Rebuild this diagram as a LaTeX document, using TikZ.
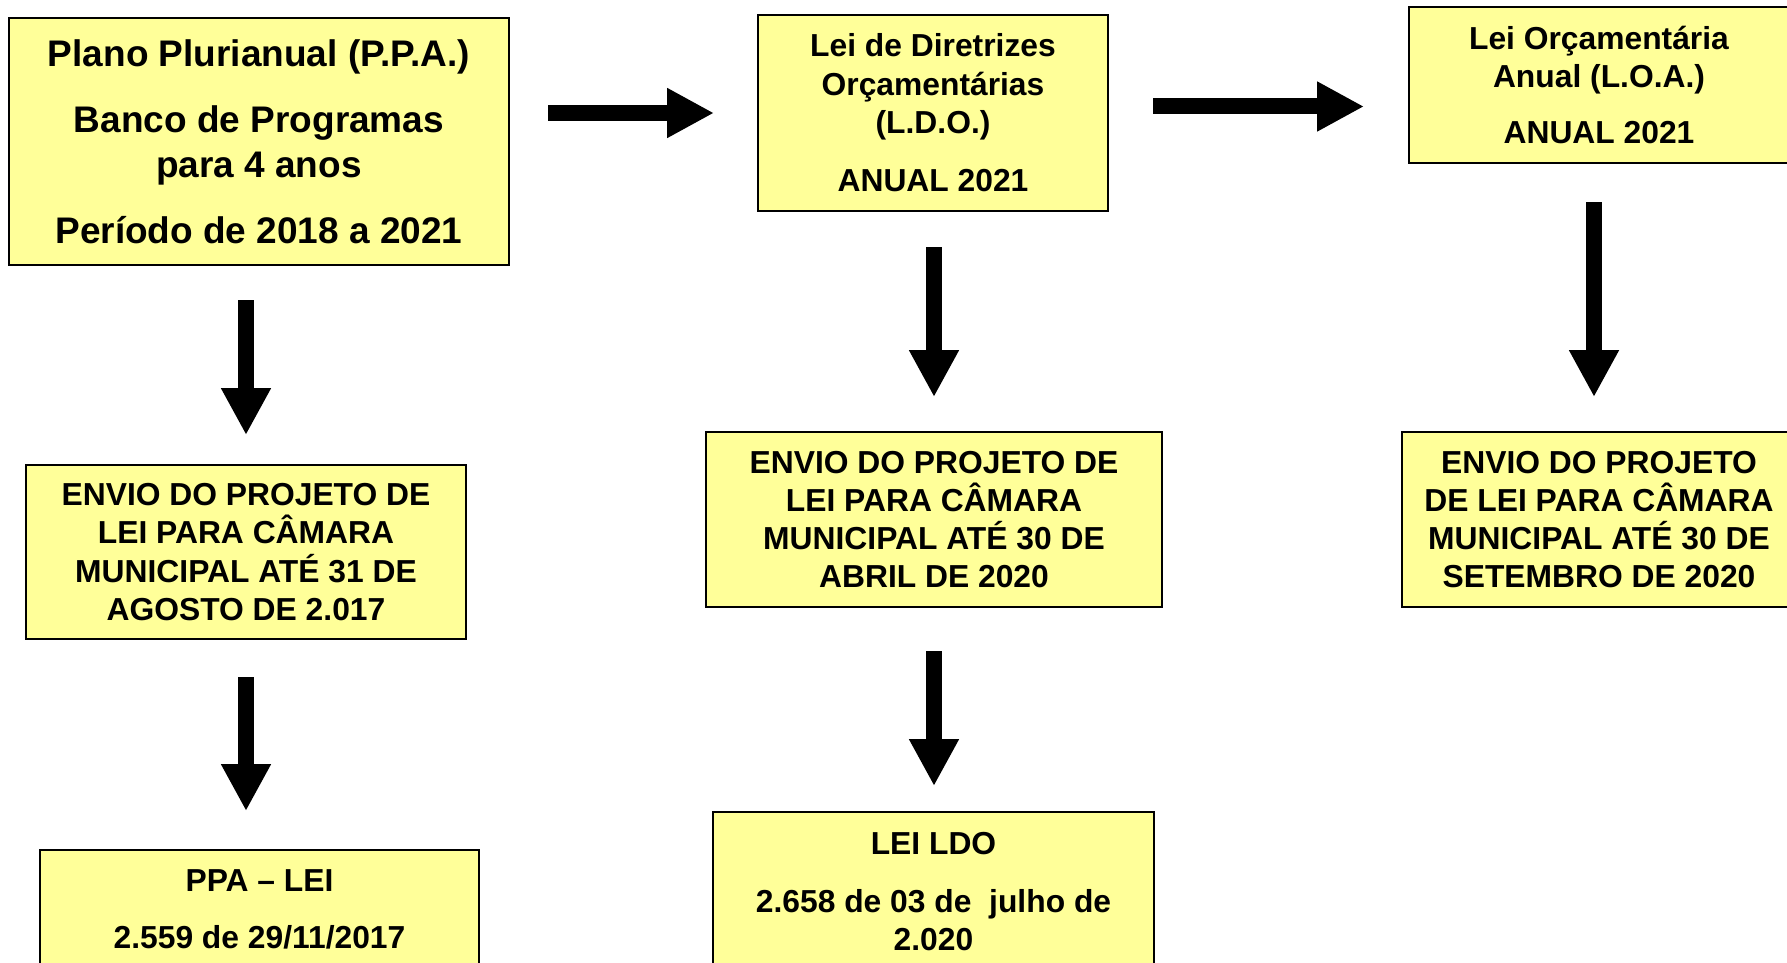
\documentclass[tikz,border=0pt]{standalone}
\usepackage{fontspec}
\setmainfont{Liberation Sans}
\usetikzlibrary{arrows.meta}
\definecolor{boxyellow}{RGB}{255,255,153}
\tikzset{
  box/.style={draw=black, line width=1.1pt, fill=boxyellow, inner sep=0pt, align=center,
    font=\fontsize{15.9pt}{19.15pt}\selectfont\bfseries},
  bigarrow/.style={line width=8pt, -{Triangle[length=23.5pt,width=23.5pt]}}
}
\begin{document}
\begin{tikzpicture}[x=0.5pt,y=-0.5pt]
\useasboundingbox (0,0) rectangle (1787,963);
% boxes
\node[box, minimum width=250pt, minimum height=123.5pt,
  font=\fontsize{18.5pt}{22.5pt}\selectfont\bfseries] (ppa) at (259,141.5)
  {Plano Plurianual (P.P.A.)\\[10.5pt]Banco de Programas\\para 4 anos\\[10.5pt]Período de 2018 a 2021};
\node[box, minimum width=175pt, minimum height=98pt] (ldo) at (933,113)
  {Lei de Diretrizes\\Orçamentárias\\(L.D.O.)\\[10pt]ANUAL 2021};
\node[box, minimum width=190pt, minimum height=78pt] (loa) at (1599,85)
  {Lei Orçamentária\\Anual (L.O.A.)\\[9pt]ANUAL 2021};
\node[box, minimum width=220pt, minimum height=87pt] (ppaenv) at (246,552)
  {ENVIO DO PROJETO DE\\LEI PARA CÂMARA\\MUNICIPAL ATÉ 31 DE\\AGOSTO DE 2.017};
\node[box, minimum width=228pt, minimum height=87.5pt] (ldoenv) at (934,519.5)
  {ENVIO DO PROJETO DE\\LEI PARA CÂMARA\\MUNICIPAL ATÉ 30 DE\\ABRIL DE 2020};
\node[box, minimum width=197pt, minimum height=87.5pt] (loaenv) at (1599,519.5)
  {ENVIO DO PROJETO\\DE LEI PARA CÂMARA\\MUNICIPAL ATÉ 30 DE\\SETEMBRO DE 2020};
\node[box, minimum width=219.5pt, minimum height=59.5pt] (ppalei) at (259.5,909.5)
  {PPA – LEI\\[9.5pt]2.559 de 29/11/2017};
\node[box, minimum width=220.5pt, minimum height=79.5pt] (ldolei) at (933.5,891.5)
  {LEI LDO\\[10pt]2.658 de 03 de \ julho de\\2.020};
% arrow end points
\coordinate (h1s) at (548,113);   \coordinate (h1e) at (714,113);
\coordinate (h2s) at (1153,106.5); \coordinate (h2e) at (1364,106.5);
\coordinate (v1s) at (246,300);   \coordinate (v1e) at (246,435);
\coordinate (v2s) at (246,677);   \coordinate (v2e) at (246,811);
\coordinate (v3s) at (934,247);   \coordinate (v3e) at (934,397);
\coordinate (v4s) at (934,651);   \coordinate (v4e) at (934,786);
\coordinate (v5s) at (1594,202);  \coordinate (v5e) at (1594,397);
\draw[bigarrow] (h1s) -- (h1e);
\draw[bigarrow] (h2s) -- (h2e);
\draw[bigarrow] (v1s) -- (v1e);
\draw[bigarrow] (v2s) -- (v2e);
\draw[bigarrow] (v3s) -- (v3e);
\draw[bigarrow] (v4s) -- (v4e);
\draw[bigarrow] (v5s) -- (v5e);
\end{tikzpicture}
\end{document}
